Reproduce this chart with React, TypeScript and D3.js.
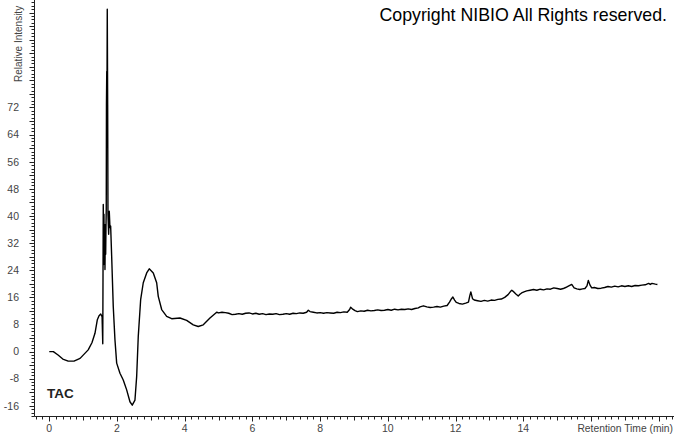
import React from "react";
import * as d3 from "d3";

// Retention time (min) and relative intensity
const times: number[] = [
  0, 0.12, 0.26, 0.40, 0.56, 0.73, 0.91, 1.15, 1.26, 1.35, 1.42, 1.47, 1.52, 1.56, 1.58,
  1.595, 1.607, 1.615, 1.624, 1.636, 1.645, 1.654, 1.666, 1.675, 1.683, 1.689, 1.698, 1.704,
  1.713, 1.725, 1.734, 1.754, 1.772, 1.793, 1.813, 1.843, 1.890, 1.940, 1.991, 2.088, 2.185,
  2.286, 2.383, 2.451, 2.531, 2.581, 2.628, 2.699, 2.776, 2.877, 2.953, 3.072, 3.172, 3.219,
  3.320, 3.467, 3.615, 3.860, 4.058, 4.253, 4.400, 4.548, 4.746, 4.944,
  5.0, 5.1, 5.2, 5.3, 5.4, 5.5, 5.6, 5.7, 5.8, 5.9, 6.0, 6.1, 6.2, 6.3, 6.4, 6.5, 6.6, 6.7,
  6.8, 6.9, 7.0, 7.1, 7.2, 7.3, 7.4, 7.5, 7.6, 7.65, 7.7, 7.8, 7.9, 8.0, 8.1, 8.2, 8.3, 8.4,
  8.5, 8.6, 8.7, 8.8, 8.87, 8.9, 8.95, 9.03, 9.1, 9.2, 9.3, 9.4, 9.5, 9.6, 9.7, 9.8, 9.9,
  10.0, 10.1, 10.2, 10.3, 10.4, 10.5, 10.6, 10.7, 10.8, 10.9, 10.95, 11.05, 11.15, 11.25,
  11.35, 11.45, 11.55, 11.65, 11.75, 11.82, 11.88, 11.92, 11.97, 12.02, 12.1, 12.2, 12.3,
  12.38, 12.42, 12.45, 12.5, 12.55, 12.65, 12.75, 12.85, 12.95, 13.05, 13.15, 13.25, 13.35,
  13.45, 13.55, 13.62, 13.66, 13.72, 13.78, 13.85, 13.9, 13.95, 14.02, 14.1, 14.2, 14.3,
  14.4, 14.5, 14.6, 14.7, 14.8, 14.9, 15.0, 15.1, 15.18, 15.25, 15.33, 15.43, 15.5, 15.58,
  15.67, 15.75, 15.82, 15.88, 15.92, 15.97, 16.02, 16.1, 16.2, 16.3, 16.4, 16.5, 16.6, 16.7,
  16.8, 16.9, 17.0, 17.1, 17.2, 17.3, 17.4, 17.5, 17.6, 17.7, 17.75, 17.8, 17.9, 17.96,
];

const intensity: number[] = [
  0, 0, -1.0, -2.2, -2.8, -2.8, -2.0, 0.5, 2.6, 5.4, 9.4, 10.6, 11.1, 10.3, 2.3,
  43.4, 25.7, 40.5, 26.6, 37.5, 24.2, 33.1, 28.7, 36.6, 42.0, 72.8, 82.6, 74.6,
  101.0, 72.8, 40.5, 34.6, 41.4, 36.6, 37.0, 28.1, 13.3, 3.5, -3.4, -6.4, -8.4,
  -11.3, -14.8, -15.8, -14.3, -7.4, 4.4, 15.3, 20.3, 23.2, 24.4, 23.2, 20.3, 16.3,
  12.4, 10.4, 9.7, 9.9, 9.2, 7.9, 7.4, 7.9, 9.9, 11.6,
  11.4, 11.6, 11.5, 11.3, 10.9, 11.0, 11.2, 11.0, 11.3, 11.4, 11.1, 11.3, 11.0, 11.2, 10.9, 11.1, 11.0, 11.2,
  10.9, 11.0, 11.2, 11.0, 11.3, 11.2, 11.4, 11.3, 11.6, 12.2, 11.8, 11.6, 11.4, 11.5, 11.3, 11.5, 11.4, 11.3,
  11.6, 11.5, 11.7, 11.6, 12.4, 13.1, 12.6, 12.1, 11.8, 12.0, 11.9, 12.2, 12.0, 12.1, 12.3, 12.1, 12.2,
  12.4, 12.2, 12.5, 12.3, 12.5, 12.4, 12.6, 12.4, 12.7, 12.9, 13.2, 13.5, 13.2, 13.0,
  13.1, 13.3, 13.1, 13.4, 13.6, 14.6, 15.6, 16.1, 15.2, 14.5, 14.2, 14.0, 14.3,
  14.6, 16.5, 17.6, 15.6, 15.2, 15.0, 14.8, 15.1, 14.9, 15.2, 15.1, 15.4, 15.5,
  16.0, 16.8, 17.7, 18.1, 17.6, 17.0, 16.4, 16.9, 17.3, 17.6, 17.9, 18.1, 18.3,
  18.1, 18.4, 18.2, 18.5, 18.4, 18.8, 18.6, 18.4, 18.6, 18.9, 19.3, 19.8, 18.8, 18.5,
  18.3, 18.5, 18.6, 19.4, 21.0, 19.6, 18.8, 18.9, 18.6, 18.7, 18.9, 19.2, 19.0, 19.3,
  19.1, 19.4, 19.2, 19.4, 19.2, 19.5, 19.4, 19.6, 19.7, 20.1, 19.8, 20.1, 19.9, 19.8,
];

const xTickLabels: number[] = [0, 2, 4, 6, 8, 10, 12, 14];
const yTickLabels: number[] = [-16, -8, 0, 8, 16, 24, 32, 40, 48, 56, 64, 72];

const xDomain: [number, number] = [-0.43, 18.45];
const yDomain: [number, number] = [-19, 103.7];

const W = 674;
const H = 434;
const FONT = "'Liberation Sans', Arial, sans-serif";

export default function App() {
  const x = d3.scaleLinear().domain(xDomain).range([34.7, 674]);
  const y = d3.scaleLinear().domain(yDomain).range([416, 0]);

  const pts: [number, number][] = times.map((t, i) => [t, intensity[i]]);
  const line = d3
    .line<[number, number]>()
    .x((d) => x(d[0]))
    .y((d) => y(d[1]));

  const xMinor = d3.range(-0.4, 18.5, 0.2).map((v) => Math.round(v * 10) / 10);
  const yMinor = d3.range(-19, 104, 1);

  const axisX = 34.5;
  const axisY = 416.5;

  return (
    <div style={{ position: "fixed", left: 0, top: 0, width: W, height: H, background: "#fff" }}>
      <svg width={W} height={H} style={{ display: "block" }}>
        <rect x={0} y={0} width={W} height={H} fill="#fff" />
        {/* Y axis */}
        <line x1={axisX} x2={axisX} y1={0} y2={axisY} stroke="#222" strokeWidth={1} />
        {yMinor.map((v) => {
          const yy = Math.round(y(v)) + 0.5;
          const len = v % 4 === 0 ? 5 : 3;
          return <line key={"ym" + v} x1={axisX - len} x2={axisX} y1={yy} y2={yy} stroke="#222" strokeWidth={1} />;
        })}
        {yTickLabels.map((v) => (
          <text
            key={"yl" + v}
            x={19}
            y={y(v)}
            dy="0.36em"
            textAnchor="end"
            fontFamily={FONT}
            fontSize={10.5}
            fill="#444"
          >
            {v}
          </text>
        ))}
        <text
          transform={`translate(22,82) rotate(-90)`}
          fontFamily={FONT}
          fontSize={10}
          fill="#444"
        >
          Relative Intensity
        </text>

        {/* X axis */}
        <line x1={axisX} x2={W} y1={axisY} y2={axisY} stroke="#222" strokeWidth={1} />
        {xMinor.map((v) => {
          const xx = Math.round(x(v)) + 0.5;
          const isMajor = Math.abs(v - Math.round(v)) < 1e-6;
          const len = isMajor && Math.round(v) % 2 === 0 ? 5 : isMajor ? 4 : 3;
          return <line key={"xm" + v} x1={xx} x2={xx} y1={axisY} y2={axisY + len} stroke="#222" strokeWidth={1} />;
        })}
        {xTickLabels.map((v) => (
          <text
            key={"xl" + v}
            x={x(v)}
            y={432}
            textAnchor="middle"
            fontFamily={FONT}
            fontSize={10.5}
            fill="#444"
          >
            {v}
          </text>
        ))}
        <text x={673} y={432} textAnchor="end" fontFamily={FONT} fontSize={10.3} fill="#444">
          Retention Time (min)
        </text>

        {/* Trace */}
        <path d={line(pts) || ""} fill="none" stroke="#000" strokeWidth={1.4} strokeLinejoin="round" />

        <text x={47} y={398} fontFamily={FONT} fontSize={13.5} fontWeight="bold" fill="#222">
          TAC
        </text>
        <text x={667} y={21} textAnchor="end" fontFamily={FONT} fontSize={17.8} fill="#000">
          Copyright NIBIO All Rights reserved.
        </text>
      </svg>
    </div>
  );
}
